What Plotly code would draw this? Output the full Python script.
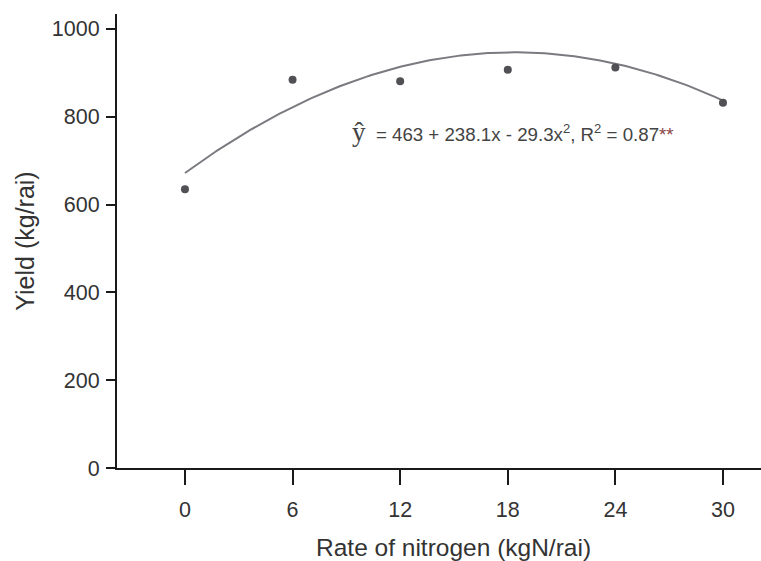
import numpy as np
import plotly.graph_objects as go

# Data
nitrogen_rate = [0, 6, 12, 18, 24, 30]
yield_obs = [635, 884, 881, 907, 912, 832]
x_ticks = [0, 6, 12, 18, 24, 30]
y_ticks = [0, 200, 400, 600, 800, 1000]
# Fitted equation coefficients (x = treatment level 1..6)
coef_a, coef_b, coef_c = 463, 238.1, -29.3

xs = np.linspace(nitrogen_rate[0], nitrogen_rate[-1], 200)
lvl = xs / 6 + 1
ys = coef_a + coef_b * lvl + coef_c * lvl ** 2

fig = go.Figure()
fig.add_trace(go.Scatter(x=xs, y=ys, mode="lines",
                         line=dict(color="#7a7a80", width=2), showlegend=False))
fig.add_trace(go.Scatter(x=nitrogen_rate, y=yield_obs, mode="markers",
                         marker=dict(color="#505055", size=8), showlegend=False))

fig.add_annotation(
    x=9.22, y=765, xref="x", yref="y", xanchor="left", yanchor="middle", showarrow=False,
    text="<span style='font-family:Liberation Serif;font-size:27px'>ŷ</span>"
         "&nbsp; = 463 + 238.1x - 29.3x<sup>2</sup>, R<sup>2</sup> = 0.87"
         "<span style='color:#8a4545'>**</span>",
    font=dict(family="Liberation Sans, Arial", size=18.7, color="#444"))

# x-axis title (centred on the 0-30 data span)
fig.add_annotation(
    x=15, y=-0.176, xref="x", yref="paper", xanchor="center", yanchor="middle", showarrow=False,
    text="Rate of nitrogen (kgN/rai)", font=dict(family="Liberation Sans, Arial", size=24.5, color="#333"))

fig.update_xaxes(range=[-3.79, 32.12], tickvals=x_ticks, ticks="outside", ticklen=15,
                 tickwidth=2, tickcolor="#1a1a1a", showline=True, linecolor="#1a1a1a", linewidth=2,
                 showgrid=False, zeroline=False, automargin=False, ticklabelstandoff=6,
                 tickfont=dict(size=21.5, color="#333"))
fig.update_yaxes(range=[0, 1034], tickvals=y_ticks, ticks="outside", ticklen=9,
                 tickwidth=2, tickcolor="#1a1a1a", showline=True, linecolor="#1a1a1a", linewidth=2,
                 showgrid=False, zeroline=False, automargin=False, ticklabelstandoff=2,
                 tickfont=dict(size=21.5, color="#333"),
                 title=dict(text="Yield (kg/rai)", font=dict(size=25, color="#333"), standoff=10))

fig.update_layout(width=761, height=561, margin=dict(l=117, r=0, t=14, b=93),
                  plot_bgcolor="white", paper_bgcolor="white",
                  font=dict(family="Liberation Sans, Arial", color="#333"))
fig.write_html("out.html", config={"displayModeBar": False},
               post_script="document.body.style.margin='0';")
